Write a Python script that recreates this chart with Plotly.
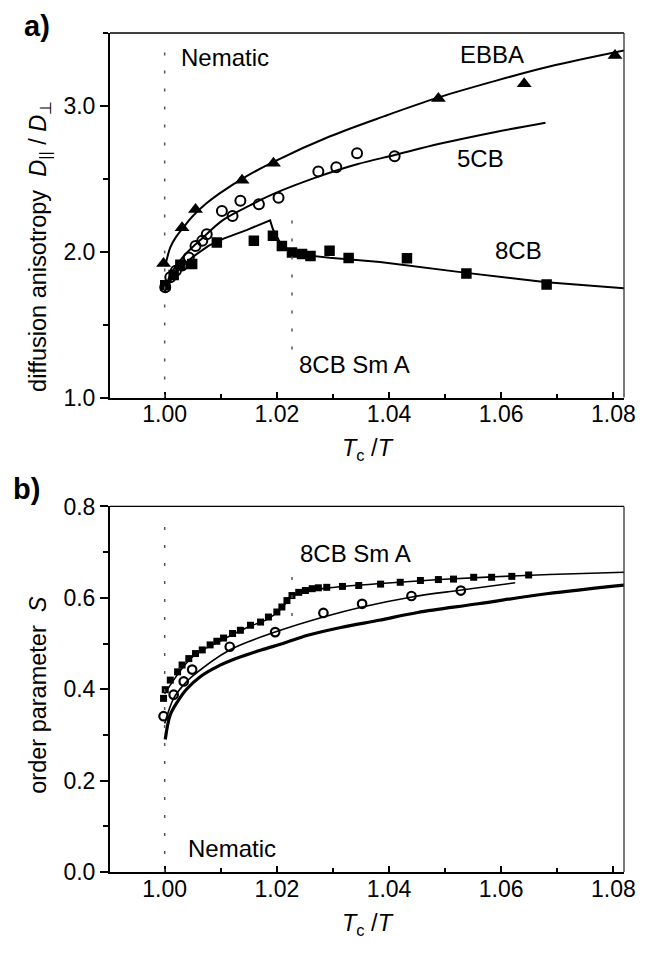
import plotly.graph_objects as go

# ---------------- Panel a: diffusion anisotropy ----------------
ebba_x = [0.9998, 1.0031, 1.0055, 1.0138, 1.0194, 1.0488, 1.0641, 1.0803]
ebba_y = [1.92, 2.165, 2.29, 2.49, 2.607, 3.05, 3.152, 3.345]

cb5_a_x = [1.0001, 1.0010, 1.0020, 1.0031, 1.0043, 1.0055, 1.0067, 1.0075, 1.0102,
           1.0121, 1.0135, 1.0168, 1.0203, 1.0274, 1.0306, 1.0343, 1.0410]
cb5_a_y = [1.757, 1.825, 1.87, 1.905, 1.96, 2.04, 2.075, 2.12, 2.28,
           2.245, 2.35, 2.325, 2.37, 2.55, 2.58, 2.675, 2.655]

cb8_a_x = [1.0001, 1.0016, 1.0028, 1.0049, 1.0093, 1.0159, 1.0193, 1.0209,
           1.0227, 1.0245, 1.0260, 1.0294, 1.0328, 1.0432, 1.0538, 1.0681]
cb8_a_y = [1.77, 1.84, 1.91, 1.915, 2.063, 2.075, 2.11, 2.04,
           1.995, 1.984, 1.97, 2.007, 1.957, 1.955, 1.85, 1.775]

ebba_fit_x = [1.0001, 1.001, 1.002, 1.0034, 1.0049, 1.0074, 1.0098, 1.0147, 1.0196,
              1.0294, 1.0392, 1.049, 1.0588, 1.0686, 1.0819]
ebba_fit_y = [1.90, 2.03, 2.10, 2.17, 2.24, 2.33, 2.40, 2.52, 2.62,
              2.79, 2.93, 3.06, 3.17, 3.27, 3.38]

cb5_fit_x = [1.0000, 1.001, 1.0034, 1.0069, 1.0105, 1.0153, 1.0196, 1.0274, 1.0343,
             1.0412, 1.049, 1.0588, 1.0679]
cb5_fit_y = [1.72, 1.84, 1.97, 2.10, 2.22, 2.32, 2.40, 2.515, 2.60,
             2.665, 2.74, 2.82, 2.885]

cb8_fit_x = [1.0000, 1.001, 1.0025, 1.0052, 1.0078, 1.0105, 1.0147, 1.0188, 1.0193,
             1.0209, 1.0230, 1.0255, 1.0294, 1.0343, 1.0384, 1.0538, 1.0681, 1.0819]
cb8_fit_y = [1.74, 1.80, 1.88, 1.97, 2.04, 2.09, 2.15, 2.215, 2.154,
             2.04, 1.995, 1.975, 1.958, 1.945, 1.93, 1.855, 1.79, 1.75]

# ---------------- Panel b: order parameter ----------------
cb8_b_x = [0.9998, 1.0001, 1.0010, 1.0023, 1.0031, 1.0043, 1.0055, 1.0067, 1.0081,
           1.0093, 1.0105, 1.0121, 1.0135, 1.0153, 1.0171, 1.0185, 1.0200, 1.0209,
           1.0218, 1.0227, 1.0239, 1.0251, 1.0263, 1.0274, 1.0289, 1.0317, 1.0346,
           1.0385, 1.0420, 1.0456, 1.0488, 1.0515, 1.0551, 1.0583, 1.0619, 1.0649]
cb8_b_y = [0.380, 0.399, 0.420, 0.438, 0.453, 0.467, 0.478, 0.486, 0.497,
           0.505, 0.512, 0.522, 0.529, 0.540, 0.547, 0.558, 0.569, 0.580,
           0.594, 0.605, 0.612, 0.616, 0.620, 0.622, 0.623, 0.625, 0.627,
           0.630, 0.634, 0.638, 0.640, 0.641, 0.645, 0.645, 0.647, 0.650]

cb5_b_x = [0.9998, 1.0016, 1.0034, 1.0049, 1.0116, 1.0197, 1.0283, 1.0352, 1.0440, 1.0528]
cb5_b_y = [0.341, 0.388, 0.417, 0.443, 0.493, 0.525, 0.567, 0.587, 0.604, 0.616]

cb8_b_fit_x = [1.0000, 1.0049, 1.0098, 1.0147, 1.0186, 1.0211, 1.0225, 1.0255, 1.0294,
               1.0392, 1.049, 1.0588, 1.0686, 1.0819]
cb8_b_fit_y = [0.39, 0.47, 0.505, 0.535, 0.555, 0.58, 0.603, 0.615, 0.622,
               0.632, 0.64, 0.646, 0.651, 0.656]

cb5_b_fit_x = [1.0000, 1.0016, 1.0034, 1.0049, 1.0116, 1.0197, 1.0283, 1.0352, 1.0441,
               1.0529, 1.0625]
cb5_b_fit_y = [0.325, 0.380, 0.410, 0.428, 0.486, 0.525, 0.558, 0.580, 0.602,
               0.617, 0.633]

theory_x = [1.0001, 1.001, 1.0023, 1.0039, 1.0064, 1.0093, 1.0127, 1.0172, 1.0211,
            1.0255, 1.0314, 1.0382, 1.0451, 1.0559, 1.0681, 1.0819]
theory_y = [0.29, 0.344, 0.373, 0.40, 0.428, 0.449, 0.467, 0.486, 0.50,
            0.518, 0.535, 0.551, 0.568, 0.587, 0.609, 0.628]

transition_x = [1.0, 1.0227]

FONT = "Liberation Sans, Arial, sans-serif"
BLACK = "black"

fig = go.Figure()

# Panel a lines
for xs, ys, shape in [(ebba_fit_x, ebba_fit_y, "spline"),
                      (cb5_fit_x, cb5_fit_y, "spline"),
                      (cb8_fit_x, cb8_fit_y, "linear")]:
    fig.add_trace(go.Scatter(x=xs, y=ys, mode="lines", xaxis="x", yaxis="y",
                             line=dict(color=BLACK, width=2, shape=shape),
                             showlegend=False, hoverinfo="skip"))
# Panel a markers
fig.add_trace(go.Scatter(x=ebba_x, y=ebba_y, mode="markers", xaxis="x", yaxis="y",
                         marker=dict(symbol="triangle-up", size=13, color=BLACK),
                         showlegend=False, cliponaxis=False))
fig.add_trace(go.Scatter(x=cb5_a_x, y=cb5_a_y, mode="markers", xaxis="x", yaxis="y",
                         marker=dict(symbol="circle-open", size=10, color=BLACK,
                                     line=dict(width=2, color=BLACK)),
                         showlegend=False))
fig.add_trace(go.Scatter(x=cb8_a_x, y=cb8_a_y, mode="markers", xaxis="x", yaxis="y",
                         marker=dict(symbol="square", size=10.5, color=BLACK),
                         showlegend=False))

# Panel b lines
fig.add_trace(go.Scatter(x=theory_x, y=theory_y, mode="lines", xaxis="x2", yaxis="y2",
                         line=dict(color=BLACK, width=3.2, shape="spline"),
                         showlegend=False))
fig.add_trace(go.Scatter(x=cb5_b_fit_x, y=cb5_b_fit_y, mode="lines", xaxis="x2", yaxis="y2",
                         line=dict(color=BLACK, width=1.6, shape="spline"),
                         showlegend=False))
fig.add_trace(go.Scatter(x=cb8_b_fit_x, y=cb8_b_fit_y, mode="lines", xaxis="x2", yaxis="y2",
                         line=dict(color=BLACK, width=1.6, shape="spline"),
                         showlegend=False))
# Panel b markers
fig.add_trace(go.Scatter(x=cb8_b_x, y=cb8_b_y, mode="markers", xaxis="x2", yaxis="y2",
                         marker=dict(symbol="square", size=7, color=BLACK),
                         showlegend=False))
fig.add_trace(go.Scatter(x=cb5_b_x, y=cb5_b_y, mode="markers", xaxis="x2", yaxis="y2",
                         marker=dict(symbol="circle-open", size=8.5, color=BLACK,
                                     line=dict(width=2.2, color=BLACK)),
                         showlegend=False))

tickfont = dict(family=FONT, size=23, color=BLACK)

def xaxis_cfg(anchor):
    return dict(anchor=anchor, domain=[0, 1], range=[0.99025, 1.0819],
                tick0=1.0, dtick=0.02, tickformat=".2f",
                ticks="inside", ticklen=6, tickwidth=1.5, tickcolor=BLACK,
                minor=dict(tick0=1.0, dtick=0.01, ticks="inside", ticklen=4,
                           tickwidth=1.5, tickcolor=BLACK),
                ticklabelstandoff=-5,
                showline=True, linewidth=2, linecolor=BLACK,
                showgrid=False, zeroline=False, tickfont=tickfont)

def yaxis_cfg(anchor, domain, rng, d, tick0):
    return dict(anchor=anchor, domain=domain, range=rng, tick0=tick0, dtick=d,
                tickformat=".1f", ticks="outside", ticklen=8, tickwidth=2,
                tickcolor=BLACK,
                minor=dict(tick0=tick0, dtick=d / 2, ticks="outside", ticklen=5,
                           tickwidth=2, tickcolor=BLACK),
                showline=True, linewidth=2, linecolor=BLACK,
                showgrid=False, zeroline=False, tickfont=tickfont)

shapes = []
for xr, yr in [("x", "y"), ("x2", "y2")]:
    shapes.append(dict(type="line", xref=f"{xr} domain", yref=f"{yr} domain",
                       x0=0, x1=1, y0=1, y1=1, line=dict(color=BLACK, width=1.3)))
    shapes.append(dict(type="line", xref=f"{xr} domain", yref=f"{yr} domain",
                       x0=1, x1=1, y0=0, y1=1, line=dict(color="#333", width=1.3)))
    shapes.append(dict(type="line", xref=xr, yref=f"{yr} domain",
                       x0=transition_x[0], x1=transition_x[0], y0=0, y1=0.97,
                       line=dict(color="#555", width=1.5, dash="3px,15px")))
shapes.append(dict(type="line", xref="x", yref="y",
                   x0=transition_x[1], x1=transition_x[1], y0=1.33, y1=2.24,
                   line=dict(color="#555", width=1.5, dash="3px,15px")))
shapes.append(dict(type="line", xref="x2", yref="y2",
                   x0=transition_x[1], x1=transition_x[1], y0=0.56, y1=0.655,
                   line=dict(color="#555", width=1.5, dash="3px,15px")))

afont = dict(family=FONT, size=24, color=BLACK)
ann = []
def A(text, x, y, xref, yref, xanchor="center", yanchor="middle", angle=0, font=afont):
    ann.append(dict(text=text, x=x, y=y, xref=xref, yref=yref, xanchor=xanchor,
                    yanchor=yanchor, showarrow=False, textangle=angle, font=font))

A("Nematic", 1.00255, 3.333, "x", "y", xanchor="left")
A("EBBA", 1.0583, 3.354, "x", "y")
A("5CB", 1.0564, 2.641, "x", "y")
A("8CB", 1.0631, 2.007, "x", "y")
A("8CB Sm A", 1.0236, 1.23, "x", "y", xanchor="left")
A("8CB Sm A", 1.0238, 0.697, "x2", "y2", xanchor="left")
A("Nematic", 1.0038, 0.0515, "x2", "y2", xanchor="left")

tfont = dict(family=FONT, size=23.5, color=BLACK)
A("diffusion anisotropy\u00a0\u00a0<i>D</i><sub>||</sub> / <i>D</i><sub>\u22a5</sub>",
  -0.1362, 0.7462, "paper", "paper", angle=-90, font=tfont)
A("order parameter\u00a0\u00a0<i>S</i>", -0.140, 0.2113, "paper", "paper", angle=-90, font=tfont)
A("<i>T</i><sub>c</sub> /<i>T</i>", 0.501, 0.5030, "paper", "paper", font=tfont)
A("<i>T</i><sub>c</sub> /<i>T</i>", 0.501, -0.0625, "paper", "paper", font=tfont)
lfont = dict(family=FONT, size=29, color=BLACK)
A("<b>a)</b>", -0.142, 1.0085, "paper", "paper", font=lfont)
A("<b>b)</b>", -0.163, 0.457, "paper", "paper", font=lfont)

fig.update_layout(
    width=644, height=948,
    margin=dict(l=102, r=28, t=17, b=84),
    paper_bgcolor="white", plot_bgcolor="white",
    xaxis=xaxis_cfg("y"),
    yaxis=yaxis_cfg("x", [0.5655, 1.0], [1.0, 3.5], 1.0, 1.0),
    xaxis2=xaxis_cfg("y2"),
    yaxis2=yaxis_cfg("x2", [0.0, 0.4357], [0.0, 0.8], 0.2, 0.0),
    shapes=shapes, annotations=ann, showlegend=False,
    font=dict(family=FONT, color=BLACK),
)

fig.write_html("out.html")
